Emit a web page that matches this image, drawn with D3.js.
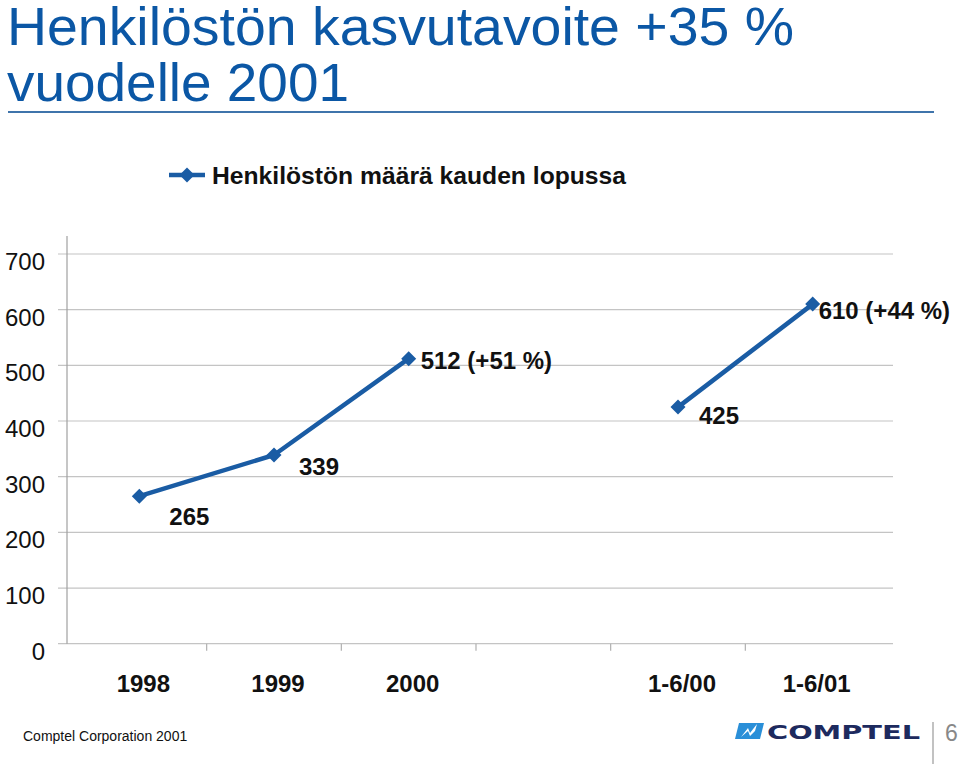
<!DOCTYPE html>
<html>
<head>
<meta charset="utf-8">
<script src="https://cdn.jsdelivr.net/npm/d3@7/dist/d3.min.js"></script>
<style>
  html, body { margin: 0; padding: 0; background: #fff; }
  svg { display: block; font-family: "Liberation Sans", Arial, Helvetica, sans-serif; }
</style>
</head>
<body>
<svg id="chart" width="960" height="764"></svg>
<script>
// ---- data ----
const titleLines = ["Henkilöstön kasvutavoite +35 %", "vuodelle 2001"];
const seriesName = "Henkilöstön määrä kauden lopussa";
const categories = ["1998", "1999", "2000", "", "1-6/00", "1-6/01"];
const values = [265, 339, 512, null, 425, 610];
const valueLabels = ["265", "339", "512 (+51 %)", "", "425", "610 (+44 %)"];
const yTicks = [0, 100, 200, 300, 400, 500, 600, 700];
const footerText = "Comptel Corporation 2001";
const pageNumber = "6";

// layout-only tweaks
const labelDx = [30, 25, 12, 0, 21, 6];
const labelDy = [20, 12, 2, 0, 8, 6];
const titleWidths = [787, 342];

const blue = "#1a5ca4";
const svg = d3.select("#chart");

// ---- title ----
svg.append("g").selectAll("text").data(titleLines).join("text")
  .attr("x", 7).attr("y", (d, i) => 45 + i * 56)
  .attr("font-size", 53).attr("fill", "#0b57a5")
  .attr("textLength", (d, i) => titleWidths[i]).attr("lengthAdjust", "spacingAndGlyphs")
  .text(d => d);
svg.append("line").attr("x1", 8).attr("x2", 934).attr("y1", 112).attr("y2", 112)
  .attr("stroke", "#3f74ab").attr("stroke-width", 2);

// ---- scales ----
const x = d3.scaleBand().domain(d3.range(categories.length)).range([72, 880]);
const y = d3.scaleLinear().domain([0, 700]).range([643.7, 254]);
const cx = i => x(i) + x.bandwidth() / 2;

// ---- grid ----
const g = svg.append("g");
g.selectAll("line.grid").data(yTicks).join("line")
  .attr("class", "grid")
  .attr("x1", 58).attr("x2", 893)
  .attr("y1", d => y(d)).attr("y2", d => y(d))
  .attr("stroke", "#c4c4c4").attr("stroke-width", 1.2);
g.append("line").attr("x1", 67).attr("x2", 67).attr("y1", 236).attr("y2", y(0))
  .attr("stroke", "#a0a0a0").attr("stroke-width", 1.2);
g.selectAll("line.ctick").data(d3.range(1, categories.length)).join("line")
  .attr("class", "ctick")
  .attr("x1", d => x(d)).attr("x2", d => x(d))
  .attr("y1", y(0)).attr("y2", y(0) + 7)
  .attr("stroke", "#b0b0b0").attr("stroke-width", 1.2);

g.selectAll("text.ytick").data(yTicks).join("text")
  .attr("class", "ytick")
  .attr("x", 45).attr("y", d => y(d) + 16)
  .attr("text-anchor", "end").attr("font-size", 24).attr("fill", "#111")
  .text(d => d);

g.selectAll("text.xlab").data(categories).join("text")
  .attr("class", "xlab")
  .attr("x", (d, i) => cx(i) + 4).attr("y", 692)
  .attr("text-anchor", "middle").attr("font-size", 24).attr("font-weight", "bold").attr("fill", "#111")
  .text(d => d);

// ---- line ----
const pts = values.map((v, i) => ({ i, v }));
const line = d3.line().defined(d => d.v != null).x(d => cx(d.i)).y(d => y(d.v));
svg.append("path").datum(pts).attr("d", line)
  .attr("fill", "none").attr("stroke", blue).attr("stroke-width", 4.5).attr("stroke-linejoin", "round");

const diamond = "M0,-7.5L7.5,0L0,7.5L-7.5,0Z";
svg.selectAll("path.mark").data(pts.filter(d => d.v != null)).join("path")
  .attr("class", "mark")
  .attr("d", diamond)
  .attr("transform", d => `translate(${cx(d.i)},${y(d.v)})`)
  .attr("fill", blue);

svg.selectAll("text.vlab").data(pts.filter(d => d.v != null)).join("text")
  .attr("class", "vlab")
  .attr("x", d => cx(d.i) + labelDx[d.i])
  .attr("y", d => y(d.v) + labelDy[d.i] + 8.5)
  .attr("font-size", 24).attr("font-weight", "bold").attr("fill", "#111")
  .text(d => valueLabels[d.i]);

// ---- legend ----
const lg = svg.append("g");
lg.append("line").attr("x1", 169).attr("x2", 205).attr("y1", 175).attr("y2", 175)
  .attr("stroke", blue).attr("stroke-width", 4.5);
lg.append("path").attr("d", diamond).attr("transform", "translate(187,175)").attr("fill", blue);
lg.append("text").attr("x", 212).attr("y", 184)
  .attr("font-size", 24).attr("font-weight", "bold").attr("fill", "#111")
  .attr("textLength", 414).attr("lengthAdjust", "spacingAndGlyphs")
  .text(seriesName);

// ---- footer ----
svg.append("text").attr("x", 23).attr("y", 741).attr("font-size", 14).attr("fill", "#111")
  .text(footerText);

const logo = svg.append("g");
logo.append("path").attr("d", "M739,723 L764,723 L760,739 L735,739 Z").attr("fill", "#2a8fd8");
logo.append("path").attr("d", "M741,737 L748,728 L750,733 L757,724 L755,731 L750,736 L748,731 Z").attr("fill", "#fff");
logo.append("text").attr("x", 767).attr("y", 739)
  .attr("font-family", "DejaVu Sans, sans-serif").attr("font-size", 20).attr("font-weight", "bold")
  .attr("textLength", 153).attr("lengthAdjust", "spacingAndGlyphs")
  .attr("fill", "#1d2a5e").text("COMPTEL");
svg.append("line").attr("x1", 933).attr("x2", 933).attr("y1", 722).attr("y2", 764)
  .attr("stroke", "#999").attr("stroke-width", 1.2);
svg.append("text").attr("x", 945).attr("y", 741).attr("font-size", 23).attr("fill", "#888")
  .text(pageNumber);
</script>
</body>
</html>
